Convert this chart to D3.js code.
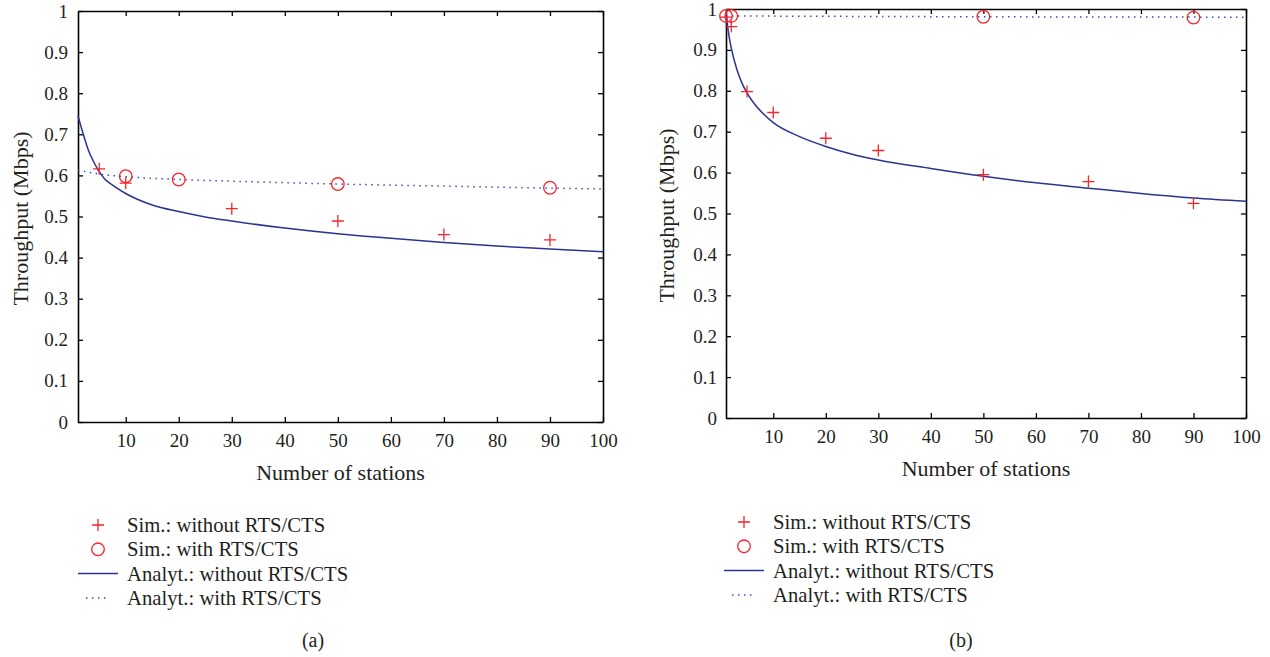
<!DOCTYPE html>
<html>
<head>
<meta charset="utf-8">
<script src="https://cdn.jsdelivr.net/npm/d3@7"></script>
<style>
  body { margin: 0; background: #fff; }
  text { font-family: 'Liberation Serif', Tinos, 'DejaVu Serif', serif; fill: #231f20; }
</style>
</head>
<body>
<svg id="chart" width="1270" height="657"></svg>
<script>
// tick values shared by both panels
var stationTicks = [10, 20, 30, 40, 50, 60, 70, 80, 90, 100];
var throughputTicks = [0, 0.1, 0.2, 0.3, 0.4, 0.5, 0.6, 0.7, 0.8, 0.9, 1];

var legendLabels = [
  "Sim.: without RTS/CTS",
  "Sim.: with RTS/CTS",
  "Analyt.: without RTS/CTS",
  "Analyt.: with RTS/CTS"
];

// panel (a)
var aSimNoX = [5, 10, 30, 50, 70, 90];
var aSimNoY = [0.616, 0.581, 0.519, 0.489, 0.456, 0.443];
var aSimRtsX = [10, 20, 50, 90];
var aSimRtsY = [0.598, 0.590, 0.579, 0.570];
var aAnNoX = [1, 2, 3, 4, 5, 6, 8, 10, 15, 20, 25, 30, 40, 50, 60, 70, 80, 90, 100];
var aAnNoY = [0.745, 0.70, 0.66, 0.632, 0.609, 0.592, 0.572, 0.556, 0.528, 0.512, 0.499, 0.489, 0.472, 0.458, 0.447, 0.437, 0.428, 0.421, 0.414];
var aAnRtsX = [1, 5, 10, 20, 30, 50, 70, 90, 100];
var aAnRtsY = [0.613, 0.603, 0.597, 0.590, 0.586, 0.579, 0.574, 0.569, 0.567];

// panel (b)
var bSimNoX = [1, 2, 5, 10, 20, 30, 50, 70, 90];
var bSimNoY = [0.98, 0.957, 0.798, 0.747, 0.684, 0.654, 0.595, 0.578, 0.525];
var bSimRtsX = [1, 2, 50, 90];
var bSimRtsY = [0.983, 0.983, 0.981, 0.979];
var bAnNoX = [1, 1.5, 2, 3, 4, 5, 6, 8, 10, 15, 20, 25, 30, 40, 50, 60, 70, 80, 90, 100];
var bAnNoY = [0.99, 0.94, 0.905, 0.855, 0.82, 0.795, 0.775, 0.745, 0.722, 0.688, 0.664, 0.645, 0.631, 0.610, 0.591, 0.575, 0.562, 0.549, 0.538, 0.530];
var bAnRtsX = [1, 50, 100];
var bAnRtsY = [0.983, 0.981, 0.980];

var red = "#f5242b";
var navy = "#2a3592";
var dotBlue = "#3d4bb5";
var serif = "'Liberation Serif', Tinos, 'DejaVu Serif', serif";

var svg = d3.select("#chart");

function zip(xs, ys) {
  return xs.map(function (x, i) { return { x: x, y: ys[i] }; });
}

function drawPanel(p) {
  var x = d3.scaleLinear().domain([1, 100]).range([p.left, p.right]);
  var y = d3.scaleLinear().domain([0, 1]).range([p.bottom, p.top]);

  var g = svg.append("g");

  // axes, ticks pointing inward on all four sides
  var bottomAxis = g.append("g")
    .attr("transform", `translate(0, ${p.bottom})`)
    .call(d3.axisBottom(x).tickValues(stationTicks).tickSizeInner(-5).tickSizeOuter(0).tickPadding(12));
  var topAxis = g.append("g")
    .attr("transform", `translate(0, ${p.top})`)
    .call(d3.axisTop(x).tickValues(stationTicks).tickSizeInner(-5).tickSizeOuter(0).tickFormat(""));
  var leftAxis = g.append("g")
    .attr("transform", `translate(${p.left}, 0)`)
    .call(d3.axisLeft(y).tickValues(throughputTicks).tickSizeInner(-5).tickSizeOuter(0).tickPadding(p.yPad).tickFormat(d3.format("~g")));
  var rightAxis = g.append("g")
    .attr("transform", `translate(${p.right}, 0)`)
    .call(d3.axisRight(y).tickValues(throughputTicks).tickSizeInner(-5).tickSizeOuter(0).tickFormat(""));

  [bottomAxis, topAxis, leftAxis, rightAxis].forEach(function (a) {
    a.attr("font-family", serif);
    a.selectAll("path.domain").attr("stroke", "#000").attr("stroke-width", 1.6);
    a.selectAll(".tick line").attr("stroke", "#000").attr("stroke-width", 1.3);
    a.selectAll("text")
      .style("font-family", serif)
      .style("font-size", "19px")
      .attr("fill", "#231f20");
  });

  // analytic curves
  var line = d3.line()
    .x(function (d) { return x(d.x); })
    .y(function (d) { return y(d.y); })
    .curve(d3.curveMonotoneX);

  g.append("path")
    .datum(zip(p.anRtsX, p.anRtsY))
    .attr("d", line)
    .attr("fill", "none")
    .attr("stroke", dotBlue)
    .attr("stroke-width", 1.5)
    .attr("stroke-dasharray", "1.5,4.5");

  g.append("path")
    .datum(zip(p.anNoX, p.anNoY))
    .attr("d", line)
    .attr("fill", "none")
    .attr("stroke", navy)
    .attr("stroke-width", 1.5);

  // simulation markers
  g.selectAll("circle.sim")
    .data(zip(p.simRtsX, p.simRtsY))
    .enter()
    .append("circle")
    .attr("class", "sim")
    .attr("cx", function (d) { return x(d.x); })
    .attr("cy", function (d) { return y(d.y); })
    .attr("r", 6.3)
    .attr("fill", "none")
    .attr("stroke", red)
    .attr("stroke-width", 1.3);

  g.selectAll("path.plus")
    .data(zip(p.simNoX, p.simNoY))
    .enter()
    .append("path")
    .attr("class", "plus")
    .attr("d", function (d) {
      var cx = x(d.x), cy = y(d.y);
      return `M${cx - 6},${cy}H${cx + 6}M${cx},${cy - 6}V${cy + 6}`;
    })
    .attr("stroke", red)
    .attr("stroke-width", 1.3);

  // axis titles
  g.append("text")
    .attr("x", (p.left + p.right) / 2)
    .attr("y", p.bottom + 58)
    .attr("text-anchor", "middle")
    .style("font-family", serif)
    .style("font-size", "22px")
    .text("Number of stations");

  g.append("text")
    .attr("transform", `translate(${p.yTitleX}, ${(p.top + p.bottom) / 2 + 2}) rotate(-90)`)
    .attr("text-anchor", "middle")
    .style("font-family", serif)
    .style("font-size", "22px")
    .text("Throughput (Mbps)");

  // legend
  var lg = g.append("g").attr("transform", `translate(${p.legendX}, ${p.legendY})`);
  var rowGap = 24.3;
  lg.append("path")
    .attr("d", `M14,0H26M20,-6V6`)
    .attr("stroke", red).attr("stroke-width", 1.3);
  lg.append("circle")
    .attr("cx", 20).attr("cy", rowGap).attr("r", 6.3)
    .attr("fill", "none").attr("stroke", red).attr("stroke-width", 1.3);
  lg.append("line")
    .attr("x1", 0).attr("x2", 40).attr("y1", rowGap * 2).attr("y2", rowGap * 2)
    .attr("stroke", navy).attr("stroke-width", 1.5);
  lg.append("line")
    .attr("x1", 8).attr("x2", 32).attr("y1", rowGap * 3).attr("y2", rowGap * 3)
    .attr("stroke", dotBlue).attr("stroke-width", 1.5).attr("stroke-dasharray", "1.5,4.5");
  lg.selectAll("text")
    .data(legendLabels)
    .enter()
    .append("text")
    .attr("x", 49)
    .attr("y", function (d, i) { return i * rowGap + 7; })
    .style("font-family", serif)
    .style("font-size", "20.7px")
    .text(function (d) { return d; });

  // caption, centred on the whole sub-figure
  g.append("text")
    .attr("x", p.captionX)
    .attr("y", 647)
    .attr("text-anchor", "middle")
    .style("font-family", serif)
    .style("font-size", "20px")
    .text(p.caption);
}

drawPanel({
  left: 78, right: 603, top: 11, bottom: 422, yPad: 10, yTitleX: 28,
  legendX: 78, legendY: 525, caption: "(a)", captionX: 313,
  simNoX: aSimNoX, simNoY: aSimNoY, simRtsX: aSimRtsX, simRtsY: aSimRtsY,
  anNoX: aAnNoX, anNoY: aAnNoY, anRtsX: aAnRtsX, anRtsY: aAnRtsY
});

drawPanel({
  left: 726, right: 1246, top: 9, bottom: 418, yPad: 9, yTitleX: 674,
  legendX: 724, legendY: 522, caption: "(b)", captionX: 961,
  simNoX: bSimNoX, simNoY: bSimNoY, simRtsX: bSimRtsX, simRtsY: bSimRtsY,
  anNoX: bAnNoX, anNoY: bAnNoY, anRtsX: bAnRtsX, anRtsY: bAnRtsY
});
</script>
</body>
</html>
